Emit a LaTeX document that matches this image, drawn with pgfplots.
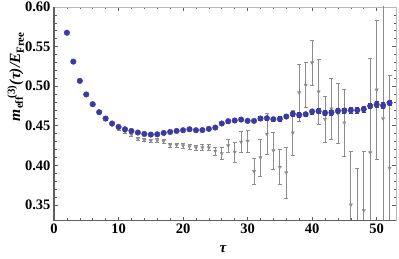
\documentclass[border=0pt]{standalone}
\usepackage{fontspec}
\setmainfont{Liberation Serif}
\usepackage{amsmath}
\usepackage{pgfplots}
\usepackage{pgfplotstable}
\pgfplotsset{compat=1.18}
\definecolor{bluept}{RGB}{58,58,160}
\definecolor{graypt}{RGB}{140,140,140}
\definecolor{framedark}{RGB}{95,95,95}

\pgfplotstableread{
t v e
2 0.5675 0.0005
3 0.5310 0.0005
4 0.5067 0.0005
5 0.4895 0.0005
6 0.4772 0.0006
7 0.4671 0.0006
8 0.4591 0.0007
9 0.4528 0.0008
10 0.4485 0.0009
11 0.4455 0.0010
12 0.4434 0.0010
13 0.4414 0.0011
14 0.4396 0.0012
15 0.4388 0.0012
16 0.4392 0.0013
17 0.4409 0.0014
18 0.4421 0.0015
19 0.4434 0.0015
20 0.4443 0.0016
21 0.4455 0.0017
22 0.4443 0.0018
23 0.4445 0.0019
24 0.4460 0.0020
25 0.4477 0.0020
26 0.4528 0.0021
27 0.4557 0.0022
28 0.4566 0.0022
29 0.4578 0.0023
30 0.4561 0.0024
31 0.4561 0.0024
32 0.4591 0.0025
33 0.4595 0.0026
34 0.4582 0.0026
35 0.4586 0.0027
36 0.4616 0.0028
37 0.4649 0.0028
38 0.4637 0.0029
39 0.4645 0.0030
40 0.4680 0.0030
41 0.4684 0.0031
42 0.4662 0.0031
43 0.4667 0.0032
44 0.4687 0.0032
45 0.4692 0.0033
46 0.4696 0.0033
47 0.4696 0.0034
48 0.4709 0.0034
49 0.4750 0.0035
50 0.4768 0.0035
51 0.4755 0.0036
52 0.4788 0.0036
}\bluedata

\pgfplotstableread{
t v e
2 0.5672 0.0005
3 0.5305 0.0005
4 0.5060 0.0005
5 0.4888 0.0006
6 0.4763 0.0007
7 0.4660 0.0008
8 0.4578 0.0009
9 0.4512 0.0010
10 0.4460 0.0012
11 0.4420 0.0014
12 0.4385 0.0016
13 0.4335 0.0018
14 0.4318 0.0020
15 0.4312 0.0021
16 0.4312 0.0023
17 0.4303 0.0025
18 0.4257 0.0027
19 0.4255 0.0029
20 0.4249 0.0030
21 0.4236 0.0032
22 0.4224 0.0033
23 0.4224 0.0035
24 0.4224 0.0040
25 0.4181 0.0050
26 0.4150 0.0076
27 0.4249 0.0080
28 0.4168 0.0127
29 0.4295 0.0135
30 0.4306 0.0137
31 0.3924 0.0168
32 0.4097 0.0232
33 0.4395 0.0260
34 0.4186 0.0236
35 0.3978 0.0224
36 0.3909 0.0323
37 0.4411 0.0285
38 0.4918 0.0360
39 0.5015 0.0285
40 0.5297 0.0285
41 0.4930 0.0410
42 0.4582 0.0295
43 0.4713 0.0384
44 0.4654 0.0380
45 0.4538 0.0420
46 0.3502 0.0680
47 0.3114 0.0844
48 0.3430 0.0747
49 0.4161 0.1190
50 0.4953 0.0880
51 0.4591 0.1600
52 0.3966 0.1170
}\graydata

\begin{document}
\begin{tikzpicture}
\useasboundingbox (0,0) rectangle (399pt,259pt);
\begin{axis}[
  at={(54pt,38.3pt)}, anchor=south west,
  scale only axis, width=342pt, height=213.7pt,
  xmin=0, xmax=53, ymin=0.33, ymax=0.60,
  xtick={0,10,20,30,40,50}, minor x tick num=4,
  ytick={0.35,0.40,0.45,0.50,0.55,0.60}, minor y tick num=4,
  axis line style={draw=gray!55, line width=0.5pt},
  tick style={framedark, line width=0.6pt},
  major tick length=4pt, minor tick length=2.5pt,
  tick align=inside,
  tick label style={font=\fontsize{14.5}{16}\selectfont\bfseries},
  /pgf/number format/assume math mode=true,
  yticklabel style={/pgf/number format/.cd, fixed, fixed zerofill, precision=2},
  xticklabel style={/pgf/number format/.cd, fixed, precision=0},
  xlabel={\bfseries\itshape τ},
  every axis x label/.style={at={(axis description cs:0.494,-0.132)}, anchor=center, font=\fontsize{15}{17}\selectfont},
  ylabel={$\text{\bfseries\itshape m}_{\text{\bfseries eff}}{}^{\!\text{\bfseries (3)}}\text{\bfseries\itshape (τ)/E}_{\text{\bfseries Free}}$},
  every axis y label/.style={at={(axis description cs:-0.112,0.675)}, rotate=90, anchor=center, font=\fontsize{15.5}{17}\selectfont},
]
\addplot[only marks, mark=triangle*, mark size=1.9pt,
  mark options={draw=graypt, fill=graypt, rotate=180},
  error bars/.cd, y dir=both, y explicit,
  error bar style={graypt, line width=0.8pt},
  error mark options={graypt, mark size=2pt, line width=0.6pt, rotate=90}]
  table[x=t, y=v, y error=e] {\graydata};
\addplot[only marks, mark=*, mark size=2.8pt,
  mark options={draw=bluept, fill=bluept},
  error bars/.cd, y dir=both, y explicit,
  error bar style={bluept, line width=0.8pt},
  error mark options={bluept, mark size=2pt, line width=0.6pt, rotate=90}]
  table[x=t, y=v, y error=e] {\bluedata};
\end{axis}
\draw[framedark, line width=1.1pt] (54pt,251.7pt) -- (54pt,38.3pt) -- (396pt,38.3pt);
\end{tikzpicture}
\end{document}
